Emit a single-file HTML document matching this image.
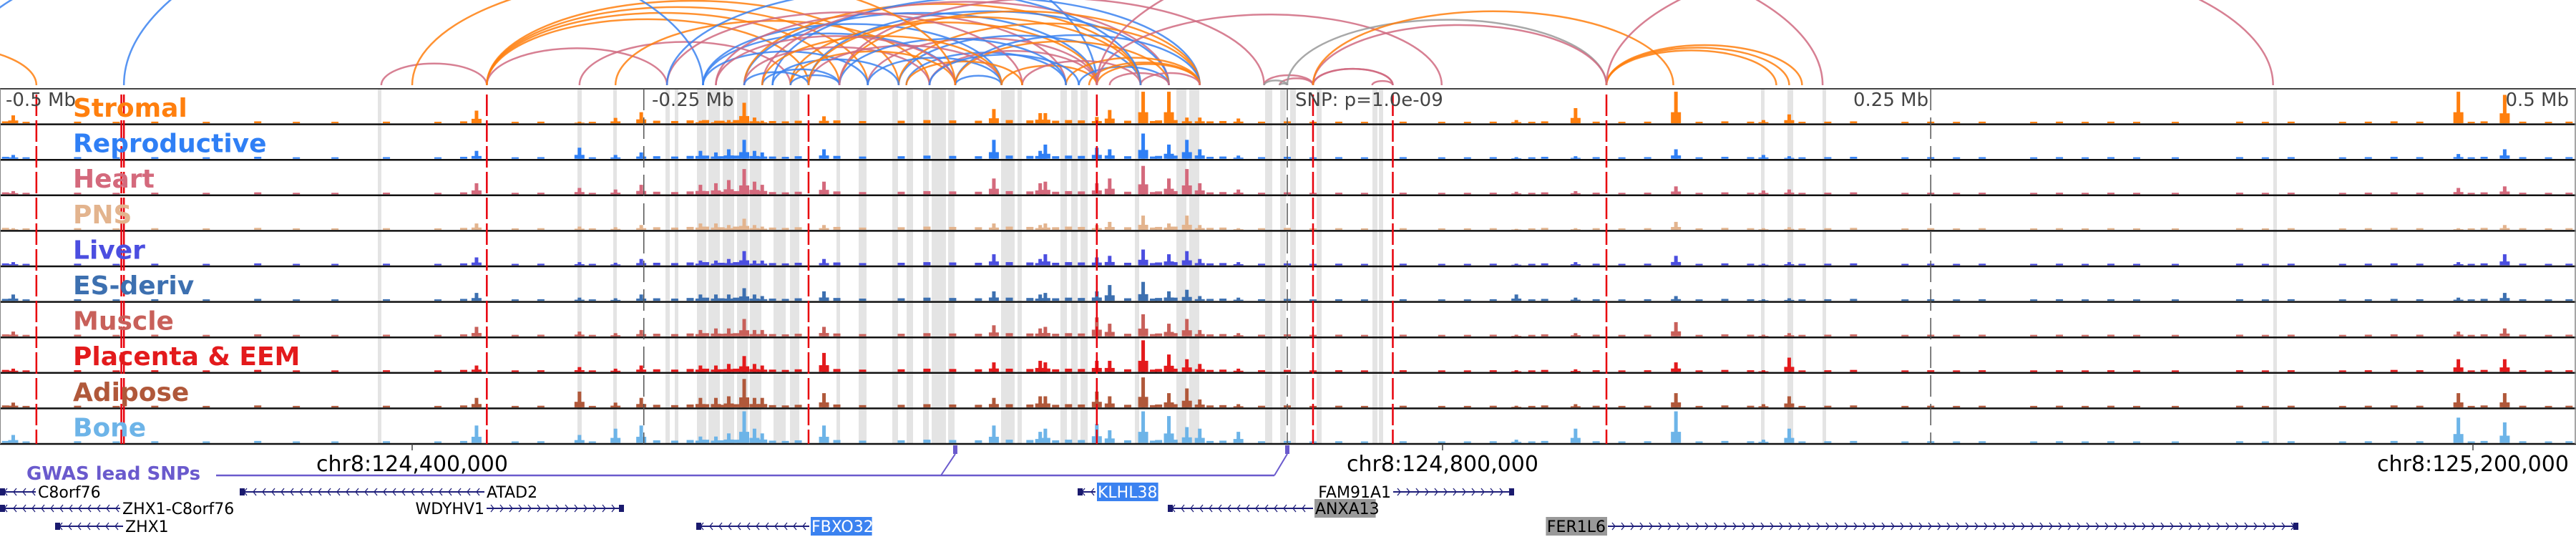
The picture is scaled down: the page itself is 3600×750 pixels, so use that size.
<!DOCTYPE html>
<html><head><meta charset="utf-8">
<style>
html,body{margin:0;padding:0;background:#fff;width:3600px;height:750px;overflow:hidden}
svg{display:block}
text{font-family:"DejaVu Sans","Liberation Sans",sans-serif}
</style></head>
<body>
<svg id="chart" width="3600" height="750" viewBox="0 0 3600 750" xmlns="http://www.w3.org/2000/svg">
  <g id="arcs"></g>
  <g id="bands"></g>
  <g id="tracks"></g>
  <g id="vlines"></g>
  <g id="labels"></g>
  <g id="axis"></g>
  <g id="gwas"></g>
  <g id="genes"></g>
</svg>
<script>
// ---- data ----
const trackNames = ["Stromal","Reproductive","Heart","PNS","Liver","ES-deriv","Muscle","Placenta & EEM","Adipose","Bone"];
const trackColors = ["#ff7f0e","#2f7ff5","#d4697c","#e3b48e","#4b4ee0","#3d70b0","#c8605a","#e31a1c","#b0583a","#6db4e8"];
const peakKb = [-495,-315,-275,-261,-251,-228,-222,-217,-211,-207,-204,-180,-114,-96,-94,-74,-69,-56,-46,-39,-34,-19,89,112,151,185,195,455,473];
const peakStromal = [.25,.4,.05,.17,.35,.08,.08,.1,.65,.18,.08,.22,.45,.32,.32,.2,.42,1,1,.18,.18,.15,.1,.48,1,.1,.28,1,.9];
const peakReproductive = [.12,.25,.35,.12,.2,.25,.2,.3,.6,.25,.2,.3,.6,.25,.45,.35,.3,.8,.45,.6,.3,.1,.05,.08,.3,.12,.08,.15,.3];
const peakHeart = [.1,.35,.2,.15,.3,.3,.35,.45,.8,.4,.3,.4,.5,.35,.4,.35,.5,.9,.5,.8,.35,.15,.08,.1,.25,.12,.15,.2,.25];
const peakPNS = [.05,.2,.1,.08,.15,.2,.2,.15,.35,.15,.1,.15,.2,.15,.2,.15,.25,.45,.2,.45,.15,.05,.03,.05,.25,.05,.08,.05,.15];
const peakLiver = [.1,.25,.1,.08,.2,.15,.15,.2,.45,.15,.15,.2,.35,.2,.35,.25,.3,.5,.35,.45,.2,.1,.05,.1,.3,.05,.1,.1,.35];
const peakESderiv = [.2,.25,.1,.08,.2,.2,.2,.2,.4,.2,.15,.3,.3,.2,.25,.3,.5,.6,.3,.35,.15,.1,.2,.1,.15,.05,.08,.1,.25];
const peakMuscle = [.15,.3,.15,.1,.2,.2,.25,.25,.55,.2,.2,.3,.35,.25,.3,.6,.4,.7,.4,.55,.2,.1,.05,.1,.45,.05,.1,.15,.25];
const peakPlacenta = [.1,.2,.15,.1,.2,.2,.2,.25,.5,.25,.2,.6,.3,.35,.3,.35,.35,1,.55,.4,.25,.1,.05,.08,.3,.05,.45,.4,.4];
const peakAdipose = [.15,.3,.5,.15,.3,.3,.3,.35,.9,.3,.3,.45,.3,.35,.35,.5,.35,.95,.45,.6,.25,.1,.05,.1,.45,.1,.35,.45,.45];
const peakBone = [.25,.55,.25,.45,.55,.2,.2,.3,1,.45,.3,.55,.55,.35,.45,.6,.4,1,.85,.5,.45,.35,.1,.45,1,.1,.45,.8,.65];
const bgKb = [-498,-490,-470,-455,-440,-420,-400,-385,-370,-350,-330,-320,-300,-290,-270,-245,-238,-232,-226,-220,-214,-200,-195,-190,-175,-165,-150,-140,-130,-120,-108,-100,-90,-85,-80,-62,-52,-50,-44,-30,-25,-10,0,10,20,30,45,60,70,80,95,100,120,130,140,160,170,180,200,210,220,240,250,260,270,290,300,310,320,330,345,370,380,390,410,420,430,440,460,465,480,490,498];
const bgH = [.06,.04,.05,.03,.05,.04,.06,.03,.04,.05,.03,.06,.04,.05,.04,.08,.07,.09,.1,.08,.1,.07,.06,.08,.09,.07,.08,.1,.09,.08,.1,.09,.08,.1,.09,.08,.07,.09,.1,.06,.07,.05,.06,.04,.05,.04,.05,.03,.04,.05,.04,.06,.05,.04,.05,.04,.06,.05,.04,.05,.06,.04,.05,.04,.05,.03,.05,.04,.05,.04,.03,.05,.04,.05,.04,.05,.06,.05,.04,.06,.05,.04,.05];
const bandStart = [528,807,857,930,943,974,990,1010,1030,1048,1081,1104,1169,1200,1247,1267,1290,1302,1325,1399,1422,1482,1497,1510,1586,1644,1662,1768,1789,1803,1840,1918,1927,2461,2498,2547,3177];
const bandEnd   = [533,813,862,936,948,987,1006,1026,1045,1064,1098,1117,1174,1211,1255,1276,1298,1322,1334,1418,1428,1491,1506,1520,1592,1658,1676,1778,1797,1811,1847,1925,1933,2466,2506,2552,3182];
const redKb = [-486,-453,-452,-311,-186,-74,10,41,124];
const tickKb = [-250,0,250];
const tickLabels = ["-0.5 Mb","-0.25 Mb","SNP: p=1.0e-09","0.25 Mb","0.5 Mb"];
const arcStart = [-560,-452,-352,-311,-311,-311,-311,-311,-275,-261,-520,-227,-227,-222,-211,-211,-204,-200,-193,-186,-174,-163,-151,-151,-148,-139,-129,-129,-111,-103,-86,-81,-77,-74,-69,-57,-241,-227,-211,-200,-193,-186,-174,-163,-148,-139,-211,-204,-193,-129,-204,-186,-222,-241,-174,-74,-9,-3,-3,-9,0,10,10,33,10,10,124,124,124,-74,124,-340];
const arcEnd   = [-486,-74,-311,-186,-163,-174,-241,-151,-193,-139,-227,-129,-111,-86,-74,-57,-46,-34,-74,-46,-34,-74,-57,-34,-86,-74,-34,-46,-74,-57,-34,-46,-34,-34,-46,-34,-103,-163,-139,-151,-129,-111,-86,-111,-103,-81,-186,-174,-174,-111,-111,-57,-129,-57,-9,60,10,10,0,0,124,124,41,41,41,150,195,190,200,208,383,-129];
const arcColor = [0,1,2,0,0,0,2,0,2,0,1,1,1,2,1,0,2,1,0,1,0,2,1,0,1,2,1,0,0,2,0,1,0,0,2,2,2,1,2,1,0,2,1,1,0,1,1,1,1,1,0,0,2,1,2,2,2,2,3,3,3,2,2,2,2,0,0,0,0,2,2,0];
const geneNames = ["C8orf76","ATAD2","KLHL38","FAM91A1","ZHX1-C8orf76","WDYHV1","ANXA13","ZHX1","FBXO32","FER1L6"];
const geneStart = [0,335,1506,1947,0,680,1632,77,973,2247];
const geneEnd   = [50,677,1531,2116,168,872,1835,172,1131,3212];
const geneRow   = [0,0,0,0,1,1,1,2,2,2];
const geneStrand= [-1,-1,-1,1,-1,1,-1,-1,-1,1];
const geneLabelSide = ["R","R","R","L","R","L","R","R","R","L"];
const geneHighlight = ["","","blue","","","","gray","","blue","gray"];
const axisPos = [124.4,124.8,125.2];
const axisLabels = ["chr8:124,400,000","chr8:124,800,000","chr8:125,200,000"];
const gwasKb = [-129,0];

// ---- scales ----
const NS="http://www.w3.org/2000/svg";
const CX=1799, PXKB=3.597;
const xKb = kb => CX + kb*PXKB;
const xMb = mb => 576 + (mb-124.4)*3600;
const TOP=124, TH=49.6, MAXH=44;
const arcColors=["#ff7f0e","#3b82f0","#d06a80","#999999"];
function mk(tag, attrs, parent){const e=document.createElementNS(NS,tag);for(const k in attrs)e.setAttribute(k,attrs[k]);parent.appendChild(e);return e;}
const gArcs=document.getElementById('arcs'),gBands=document.getElementById('bands'),gTracks=document.getElementById('tracks'),gV=document.getElementById('vlines'),gL=document.getElementById('labels'),gAx=document.getElementById('axis'),gG=document.getElementById('gwas'),gGenes=document.getElementById('genes');

// arcs
const AB=119;
for(let i=0;i<arcStart.length;i++){
  const x1=xKb(arcStart[i]), x2=xKb(arcEnd[i]); const span=Math.abs(x2-x1);
  const p=mk('path',{d:`M${x1} ${AB} A${span/2} ${span*0.205} 0 0 1 ${x2} ${AB}`,fill:'none',stroke:arcColors[arcColor[i]],'stroke-width':2.5,'stroke-opacity':0.85},gArcs);
  
  
}
// bands
for(let i=0;i<bandStart.length;i++){
  const r=mk('rect',{x:bandStart[i],y:TOP,width:bandEnd[i]-bandStart[i],height:TH*10,fill:'#e4e4e4'},gBands);
  
  
}
// tracks
const peaks=[peakStromal,peakReproductive,peakHeart,peakPNS,peakLiver,peakESderiv,peakMuscle,peakPlacenta,peakAdipose,peakBone];
for(let t=0;t<10;t++){
  const base=TOP+(t+1)*TH-1.5;
  const g=mk('g',{},gTracks);
  
  
  for(let i=0;i<bgKb.length;i++){
    const h=Math.max(2,bgH[i]*MAXH);
    const b=mk('rect',{x:xKb(bgKb[i])-5,y:base-h,width:10,height:h,fill:trackColors[t]},g);
    
    
  }
  for(let i=0;i<peakKb.length;i++){
    const h=peaks[t][i]*MAXH;
    const b=mk('rect',{x:xKb(peakKb[i])-2.5,y:base-h,width:5,height:h,fill:trackColors[t]},g);
    
    
    const s=mk('rect',{x:xKb(peakKb[i])-7,y:base-h*0.35,width:14,height:h*0.35,fill:trackColors[t]},g);
    
    
  }
  const ln=mk('line',{x1:0,x2:3600,y1:TOP+(t+1)*TH,y2:TOP+(t+1)*TH,stroke:'#111','stroke-width':2.5},gTracks);
  
  
  const lb=mk('text',{x:102,y:TOP+t*TH+39,fill:trackColors[t],'font-size':36,'font-weight':'bold'},gL);
  lb.textContent=trackNames[t];
  
  
}
const topLine=mk('line',{x1:0,x2:3600,y1:TOP,y2:TOP,stroke:'#444','stroke-width':2},gTracks);


const lft=mk('line',{x1:0.5,x2:0.5,y1:TOP,y2:TOP+10*TH,stroke:'#888','stroke-width':1},gTracks);


const rgt=mk('line',{x1:3599,x2:3599,y1:TOP,y2:TOP+10*TH,stroke:'#888','stroke-width':1.5},gTracks);


// red lines
for(const k of redKb){
  const l=mk('line',{x1:xKb(k),x2:xKb(k),y1:TOP+8,y2:TOP+10*TH,stroke:'#e8000b','stroke-width':2.5,'stroke-dasharray':'30 6'},gV);
  
  
}
for(const k of tickKb){
  const l=mk('line',{x1:xKb(k),x2:xKb(k),y1:TOP,y2:TOP+10*TH,stroke:'#555','stroke-width':1.5,'stroke-dasharray':'30 10'},gV);
  
  
}
// offset labels
const offX=[8,911,1810,2590,3590], offA=['start','start','start','start','end'];
for(let i=0;i<tickLabels.length;i++){
  const t=mk('text',{x:offX[i],y:TOP+24,'font-size':26,fill:'#444','text-anchor':offA[i]},gL);
  t.textContent=tickLabels[i];
  
  
}
// axis
for(let i=0;i<axisPos.length;i++){
  const x=xMb(axisPos[i]);
  const tk=mk('line',{x1:x,x2:x,y1:620,y2:629,stroke:'#444','stroke-width':1.5},gAx);
  
  
  const t=mk('text',{x:x,y:658,'font-size':30,fill:'#000','text-anchor':'middle'},gAx);
  t.textContent=axisLabels[i];
  
  
}
// gwas
const gl=mk('text',{x:37,y:670,'font-size':26,'font-weight':'bold',fill:'#6a5acd'},gG);
gl.textContent='GWAS lead SNPs';


const bx=[1315,1781];
const conn=mk('line',{x1:302,x2:1781,y1:664,y2:664,stroke:'#6a5acd','stroke-width':2.5},gG);


for(let i=0;i<gwasKb.length;i++){
  const x=xKb(gwasKb[i]);
  const c=mk('line',{x1:bx[i],y1:664,x2:x,y2:634,stroke:'#6a5acd','stroke-width':2},gG);
  
  
  const m=mk('rect',{x:x-3,y:622,width:6,height:12,fill:'#6a5acd'},gG);
  
  
}
// genes
const rowY=[687,710,735];
for(let i=0;i<geneNames.length;i++){
  const y=rowY[geneRow[i]], x1=geneStart[i], x2=geneEnd[i];
  const g=mk('g',{},gGenes);
  
  
  mk('line',{x1:x1,x2:x2,y1:y,y2:y,stroke:'#1f1f7a','stroke-width':2},g);
  let d='';
  for(let x=x1+6;x<x2-4;x+=13){
    d+= geneStrand[i]<0 ? `M${x+4} ${y-5}L${x} ${y}L${x+4} ${y+5}` : `M${x} ${y-5}L${x+4} ${y}L${x} ${y+5}`;
  }
  mk('path',{d:d,fill:'none',stroke:'#1f1f7a','stroke-width':1.3},g);
  const exonX = geneStrand[i]<0 ? x1 : x2-7;
  mk('rect',{x:exonX,y:y-5,width:7,height:10,fill:'#1a1a6e'},g);
  const side=geneLabelSide[i];
  const tx= side==='R' ? x2+3 : x1-3;
  const fs=22, w=geneNames[i].length*13.6;
  if(geneHighlight[i]){
    const rx= side==='R'? tx-1 : tx-w-2;
    mk('rect',{x:rx,y:y-13,width:w+4,height:26,fill:geneHighlight[i]==='blue'?'#3b82f0':'#999'},g);
  }
  const t=mk('text',{x:tx,y:y+8,'font-size':fs,fill:geneHighlight[i]==='blue'?'#fff':'#000','text-anchor':side==='R'?'start':'end'},g);
  t.textContent=geneNames[i];
  
  
}
</script>
</body></html>
